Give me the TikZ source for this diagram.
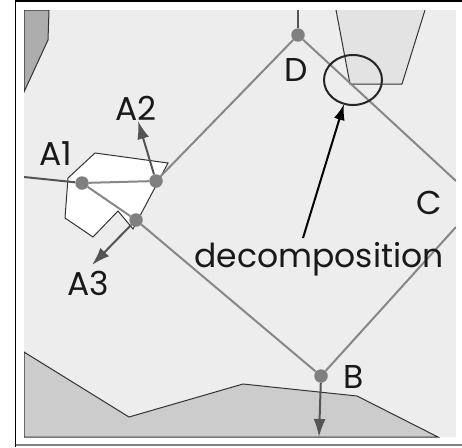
\documentclass[tikz,border=0pt]{standalone}
\usepackage{fontspec}
\setmainfont{Poppins}
\usetikzlibrary{arrows.meta,shapes.geometric}
\definecolor{panel}{gray}{0.93}
\definecolor{edgegray}{gray}{0.53}
\definecolor{dotgray}{gray}{0.5}
\definecolor{arrgray}{gray}{0.33}
\tikzset{
 x=1pt,y=-1pt,
 outline/.style={draw=black!80,line width=1pt,line join=miter},
 edge/.style={draw=edgegray,line width=2pt},
 stub/.style={draw=arrgray,line width=2pt},
 vec/.style={draw=arrgray,fill=arrgray,line width=2pt,-{Latex[length=18pt,width=12pt]}},
 blk/.style={draw=black,line width=2pt,-{Latex[length=16pt,width=11pt]}},
 dot/.style={circle,fill=dotgray,inner sep=0pt,minimum size=13.5pt},
 lab/.style={font=\fontsize{33}{35}\selectfont,inner sep=0pt,text=black!90},
}
\begin{document}
\begin{tikzpicture}
\useasboundingbox (0,0) rectangle (462,447);
\fill[white] (0,0) rectangle (462,447);
\draw[black,line width=1.2pt] (15.5,447) -- (15.5,1) -- (462,1);
\draw[gray,line width=1.2pt] (15.5,445) -- (462,445);
\fill[panel] (24,10) rectangle (456,437);
\begin{scope}
\clip (24,10) rectangle (456,437);
\path[outline,fill=black!32] (24,10) -- (49,10) -- (48,40) -- (24,92) -- cycle;
\path[outline,fill=black!20] (24,352) -- (129,417) -- (243,384) -- (357,396) -- (438,437) -- (24,437) -- cycle;
\path[outline,fill=black!11] (336,10) -- (350,84) -- (402,84) -- (425,10);
\path[outline,fill=white] (95,153) -- (168,163) -- (133,229) -- (118,211) -- (93,237) -- (65,218) -- (68,178) -- cycle;
\node[dot] (a1) at (82,183) {};
\node[dot] (a2) at (156,181) {};
\node[dot] (a3) at (136,220) {};
\node[dot] (d) at (298,35) {};
\node[dot] (b) at (321,376) {};
\coordinate (west) at (24,177);
\coordinate (north) at (298,10);
\coordinate (cu) at (456,181);
\coordinate (cl) at (456,227);
\coordinate (ta2) at (138,121);
\coordinate (ta3) at (92,265);
\coordinate (tb) at (319,437);
\draw[stub] (west) -- (a1);
\draw[stub] (north) -- (d);
\draw[edge] (a1) -- (a2);
\draw[edge] (a1) -- (a3);
\draw[edge] (a2) -- (d);
\draw[edge] (a3) -- (b);
\draw[edge] (d) -- (cu);
\draw[edge] (b) -- (cl);
\draw[vec] (a2) -- (ta2);
\draw[vec] (a3) -- (ta3);
\draw[vec] (b) -- (tb);
\node[draw=black!85,line width=2pt,ellipse,minimum width=58pt,minimum height=50pt,inner sep=0pt] (e) at (353,80) {};
\end{scope}
\node[lab] (decomp) at (319,259) {decomposition};
\coordinate (tail) at (303,238);
\draw[blk] (tail) -- (344,104);
\node[lab] (la1) at (56,154) {A1};
\node[lab] (la2) at (136,108) {A2};
\node[lab] (la3) at (88,283) {A3};
\node[lab] (ld) at (296,70) {D};
\node[lab] (lc) at (429,203) {C};
\node[lab] (lb) at (354,377) {B};
\end{tikzpicture}
\end{document}
